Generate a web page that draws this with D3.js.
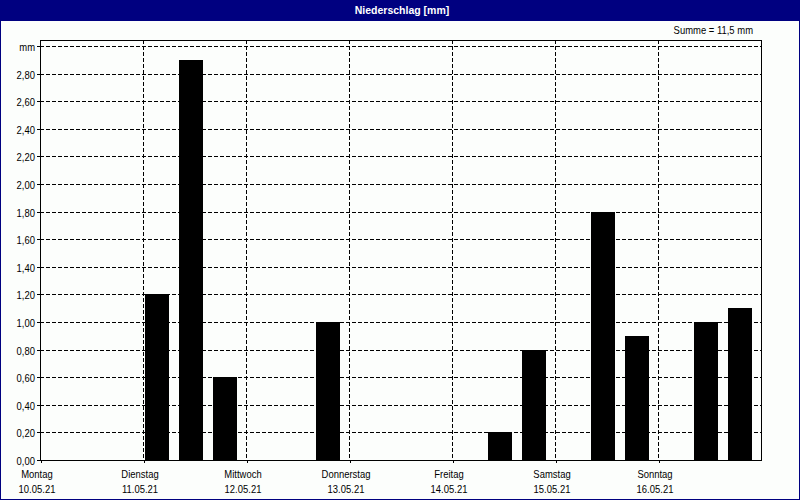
<!DOCTYPE html>
<html>
<head>
<meta charset="utf-8">
<script src="https://cdn.jsdelivr.net/npm/d3@7"></script>
<style>
  html, body { margin: 0; padding: 0; background: #fcfefc; }
  svg { display: block; }
  text { font-family: "Liberation Sans", Arial, sans-serif; font-size: 11px; fill: #000; }
</style>
</head>
<body>
<svg id="chart" width="800" height="500"></svg>
<script>
// ---- data ----
const title = "Niederschlag [mm]";
const sumLabel = "Summe = 11,5 mm";
const days = ["Montag", "Dienstag", "Mittwoch", "Donnerstag", "Freitag", "Samstag", "Sonntag"];
const dates = ["10.05.21", "11.05.21", "12.05.21", "13.05.21", "14.05.21", "15.05.21", "16.05.21"];
// three 8-hour periods per day
const precip = [
  0, 0, 0,
  1.2, 2.9, 0.6,
  0, 0, 1.0,
  0, 0, 0,
  0, 0.2, 0.8,
  0, 1.8, 0.9,
  0, 1.0, 1.1
];
const yTicks = [0, 0.2, 0.4, 0.6, 0.8, 1.0, 1.2, 1.4, 1.6, 1.8, 2.0, 2.2, 2.4, 2.6, 2.8, 3.0];
const yTickLabels = ["0,00", "0,20", "0,40", "0,60", "0,80", "1,00", "1,20", "1,40", "1,60", "1,80", "2,00", "2,20", "2,40", "2,60", "2,80", "mm"];

// ---- layout ----
const W = 800, H = 500;
const pL = 40, pR = 761, pT = 40, pB = 460;
const perDay = 3;
const squeeze = 0.86;

const svg = d3.select("#chart");

// horizontally narrowed text, like the bitmap UI font of the original
function narrowText(parent, xPos, yPos, str, anchor) {
  return parent.append("text")
    .attr("transform", `translate(${xPos},${yPos}) scale(${squeeze},1)`)
    .attr("text-anchor", anchor).text(str);
}

svg.append("rect").attr("x", 0).attr("y", 0).attr("width", W).attr("height", H).attr("fill", "#fcfefc");

// title bar
svg.append("rect").attr("x", 0).attr("y", 0).attr("width", W).attr("height", 21).attr("fill", "#000080");
svg.append("text").attr("x", W / 2 + 2).attr("y", 14).attr("text-anchor", "middle")
  .style("font-weight", "bold").style("font-size", "10.5px")
  .style("fill", "#fff").text(title);

// outer border
svg.append("rect").attr("x", 0.5).attr("y", 0.5).attr("width", W - 1).attr("height", H - 1)
  .attr("fill", "none").attr("stroke", "#000080");

narrowText(svg, 753, 34, sumLabel, "end");

// scales
const x = d3.scaleLinear().domain([0, days.length * perDay]).range([pL, pR]);
const y = d3.scaleLinear().domain([0, 3]).range([pB, 46]);
const slotW = x(1) - x(0);

const g = svg.append("g").attr("shape-rendering", "crispEdges");

// horizontal gridlines
g.append("g").selectAll("line").data(yTicks.filter(d => d > 0)).join("line")
  .attr("x1", pL).attr("x2", pR)
  .attr("y1", d => Math.round(y(d)) + 0.5).attr("y2", d => Math.round(y(d)) + 0.5)
  .attr("stroke", "#000").attr("stroke-dasharray", "4,2");

// vertical gridlines at day boundaries
const dayIdx = d3.range(1, days.length);
g.append("g").selectAll("line").data(dayIdx).join("line")
  .attr("x1", d => Math.round(x(d * perDay)) + 0.5).attr("x2", d => Math.round(x(d * perDay)) + 0.5)
  .attr("y1", pT).attr("y2", pB)
  .attr("stroke", "#000").attr("stroke-dasharray", "4,2");

// bars
g.append("g").selectAll("rect").data(precip).join("rect")
  .attr("x", (d, i) => Math.round(x(i) + slotW * 0.05))
  .attr("width", Math.round(slotW * 0.7))
  .attr("y", d => Math.round(y(d)))
  .attr("height", d => Math.round(y(0)) - Math.round(y(d)))
  .attr("fill", "#000");

// y axis (ticks via d3 axis, labels narrowed)
const yAxis = d3.axisLeft(y).tickValues(yTicks).tickFormat("").tickSizeInner(4).tickSizeOuter(0);
const ya = svg.append("g").attr("transform", `translate(${pL + 0.5},0)`).attr("shape-rendering", "crispEdges").call(yAxis);
ya.select(".domain").remove();
const yl = svg.append("g");
yTicks.forEach((v, i) => narrowText(yl, 35, Math.round(y(v)) + 4.5, yTickLabels[i], "end"));

// x axis (ticks at day boundaries)
const xAxis = d3.axisBottom(x).tickValues(d3.range(0, days.length).map(d => d * perDay)).tickFormat("").tickSizeInner(3).tickSizeOuter(0);
const xa = svg.append("g").attr("transform", `translate(0.5,${pB})`).attr("shape-rendering", "crispEdges").call(xAxis);
xa.select(".domain").remove();

// day / date labels
const lab = svg.append("g");
days.forEach((d, i) => narrowText(lab, x(i * perDay) - 3, 478, d, "middle"));
dates.forEach((d, i) => narrowText(lab, x(i * perDay) - 3, 493, d, "middle"));

// plot frame
svg.append("rect").attr("x", pL + 0.5).attr("y", pT + 0.5).attr("width", pR - pL).attr("height", pB - pT)
  .attr("fill", "none").attr("stroke", "#000").attr("shape-rendering", "crispEdges");
</script>
</body>
</html>
